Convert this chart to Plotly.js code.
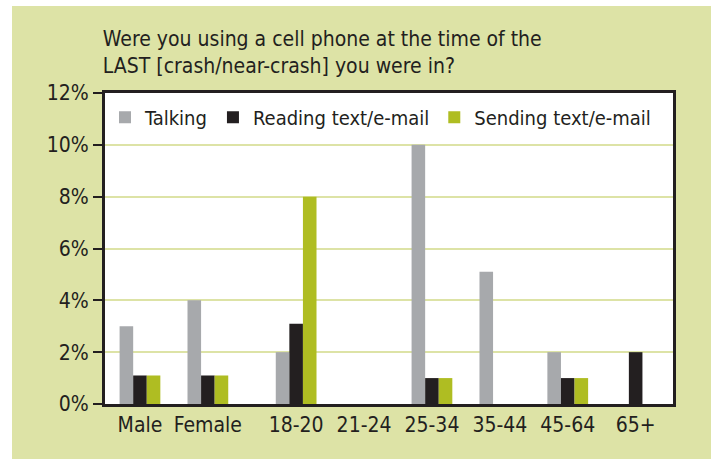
<!DOCTYPE html>
<html>
<head>
<meta charset="utf-8">
<script src="https://cdn.plot.ly/plotly-3.0.1.min.js"></script>
<style>
  html, body { margin: 0; padding: 0; background: #ffffff; }
  #chart { position: absolute; left: 12px; top: 6px; width: 699px; height: 453px; }
</style>
</head>
<body>
<div id="chart"></div>
<script>
// ---- data ----
const sexCategories = ['Male', 'Female'];
const ageCategories = ['18-20', '21-24', '25-34', '35-44', '45-64', '65+'];
const categories = sexCategories.concat(ageCategories);
const talking = [3, 4, 2, 0, 10, 5.1, 2, 0];
const readingText = [1.1, 1.1, 3.1, 0, 1, 0, 1, 2];
const sendingText = [1.1, 1.1, 8, 0, 1, 0, 1, 0];
const seriesNames = ['Talking', 'Reading text/e-mail', 'Sending text/e-mail'];
const yTicks = [0, 2, 4, 6, 8, 10, 12];
const yTickLabels = ['0%', '2%', '4%', '6%', '8%', '10%', '12%'];

// ---- layout helpers ----
const GROUP_GAP = 0.3; // extra space between the sex and age groups
const xPos = categories.map((c, i) => i < sexCategories.length ? i : i + GROUP_GAP);

const FONT = '"Liberation Sans Narrow", "DejaVu Sans Condensed", "Liberation Sans", Arial, sans-serif';
const INK = '#231f20';
const colors = ['#a7a9ac', '#231f20', '#afbd22'];
const seriesValues = [talking, readingText, sendingText];

const traces = seriesValues.map((vals, k) => ({
  type: 'bar',
  x: xPos,
  y: vals,
  name: seriesNames[k],
  marker: { color: colors[k], line: { width: 0 } },
  hoverinfo: 'skip'
}));

const layout = {
  width: 699,
  height: 453,
  paper_bgcolor: '#dde3a6',
  plot_bgcolor: '#ffffff',
  margin: { l: 93, r: 38, t: 87, b: 55 },
  font: { family: FONT, color: INK, size: 21 },
  title: {
    text: 'Were you using a cell phone at the time of the<br>LAST [crash/near-crash] you were in?',
    font: { family: FONT, size: 21, color: INK },
    xref: 'container', x: 0.130, xanchor: 'left',
    yref: 'container', y: 0.912, yanchor: 'top'
  },
  barmode: 'group',
  bargap: 0.4,
  bargroupgap: 0,
  showlegend: true,
  legend: {
    orientation: 'h',
    x: 0.0, xanchor: 'left',
    y: 0.985, yanchor: 'top',
    bgcolor: 'rgba(0,0,0,0)',
    font: { family: FONT, size: 20, color: INK },
    traceorder: 'normal'
  },
  xaxis: {
    type: 'linear',
    range: [-0.515, 7.85],
    tickvals: xPos,
    ticktext: categories,
    showgrid: false,
    zeroline: false,
    ticks: '',
    showline: true, mirror: true, linecolor: INK, linewidth: 3,
    tickfont: { family: FONT, size: 21, color: INK },
    fixedrange: true
  },
  yaxis: {
    range: [0, 12],
    tickvals: yTicks,
    ticktext: yTickLabels,
    showgrid: true, gridcolor: '#dde3a6', gridwidth: 2,
    zeroline: false,
    ticks: 'outside', ticklen: 9, tickwidth: 2, tickcolor: INK,
    showline: true, mirror: true, linecolor: INK, linewidth: 3,
    tickfont: { family: FONT, size: 21, color: INK },
    fixedrange: true
  }
};

Plotly.newPlot('chart', traces, layout, { displayModeBar: false, staticPlot: true });
</script>
</body>
</html>
